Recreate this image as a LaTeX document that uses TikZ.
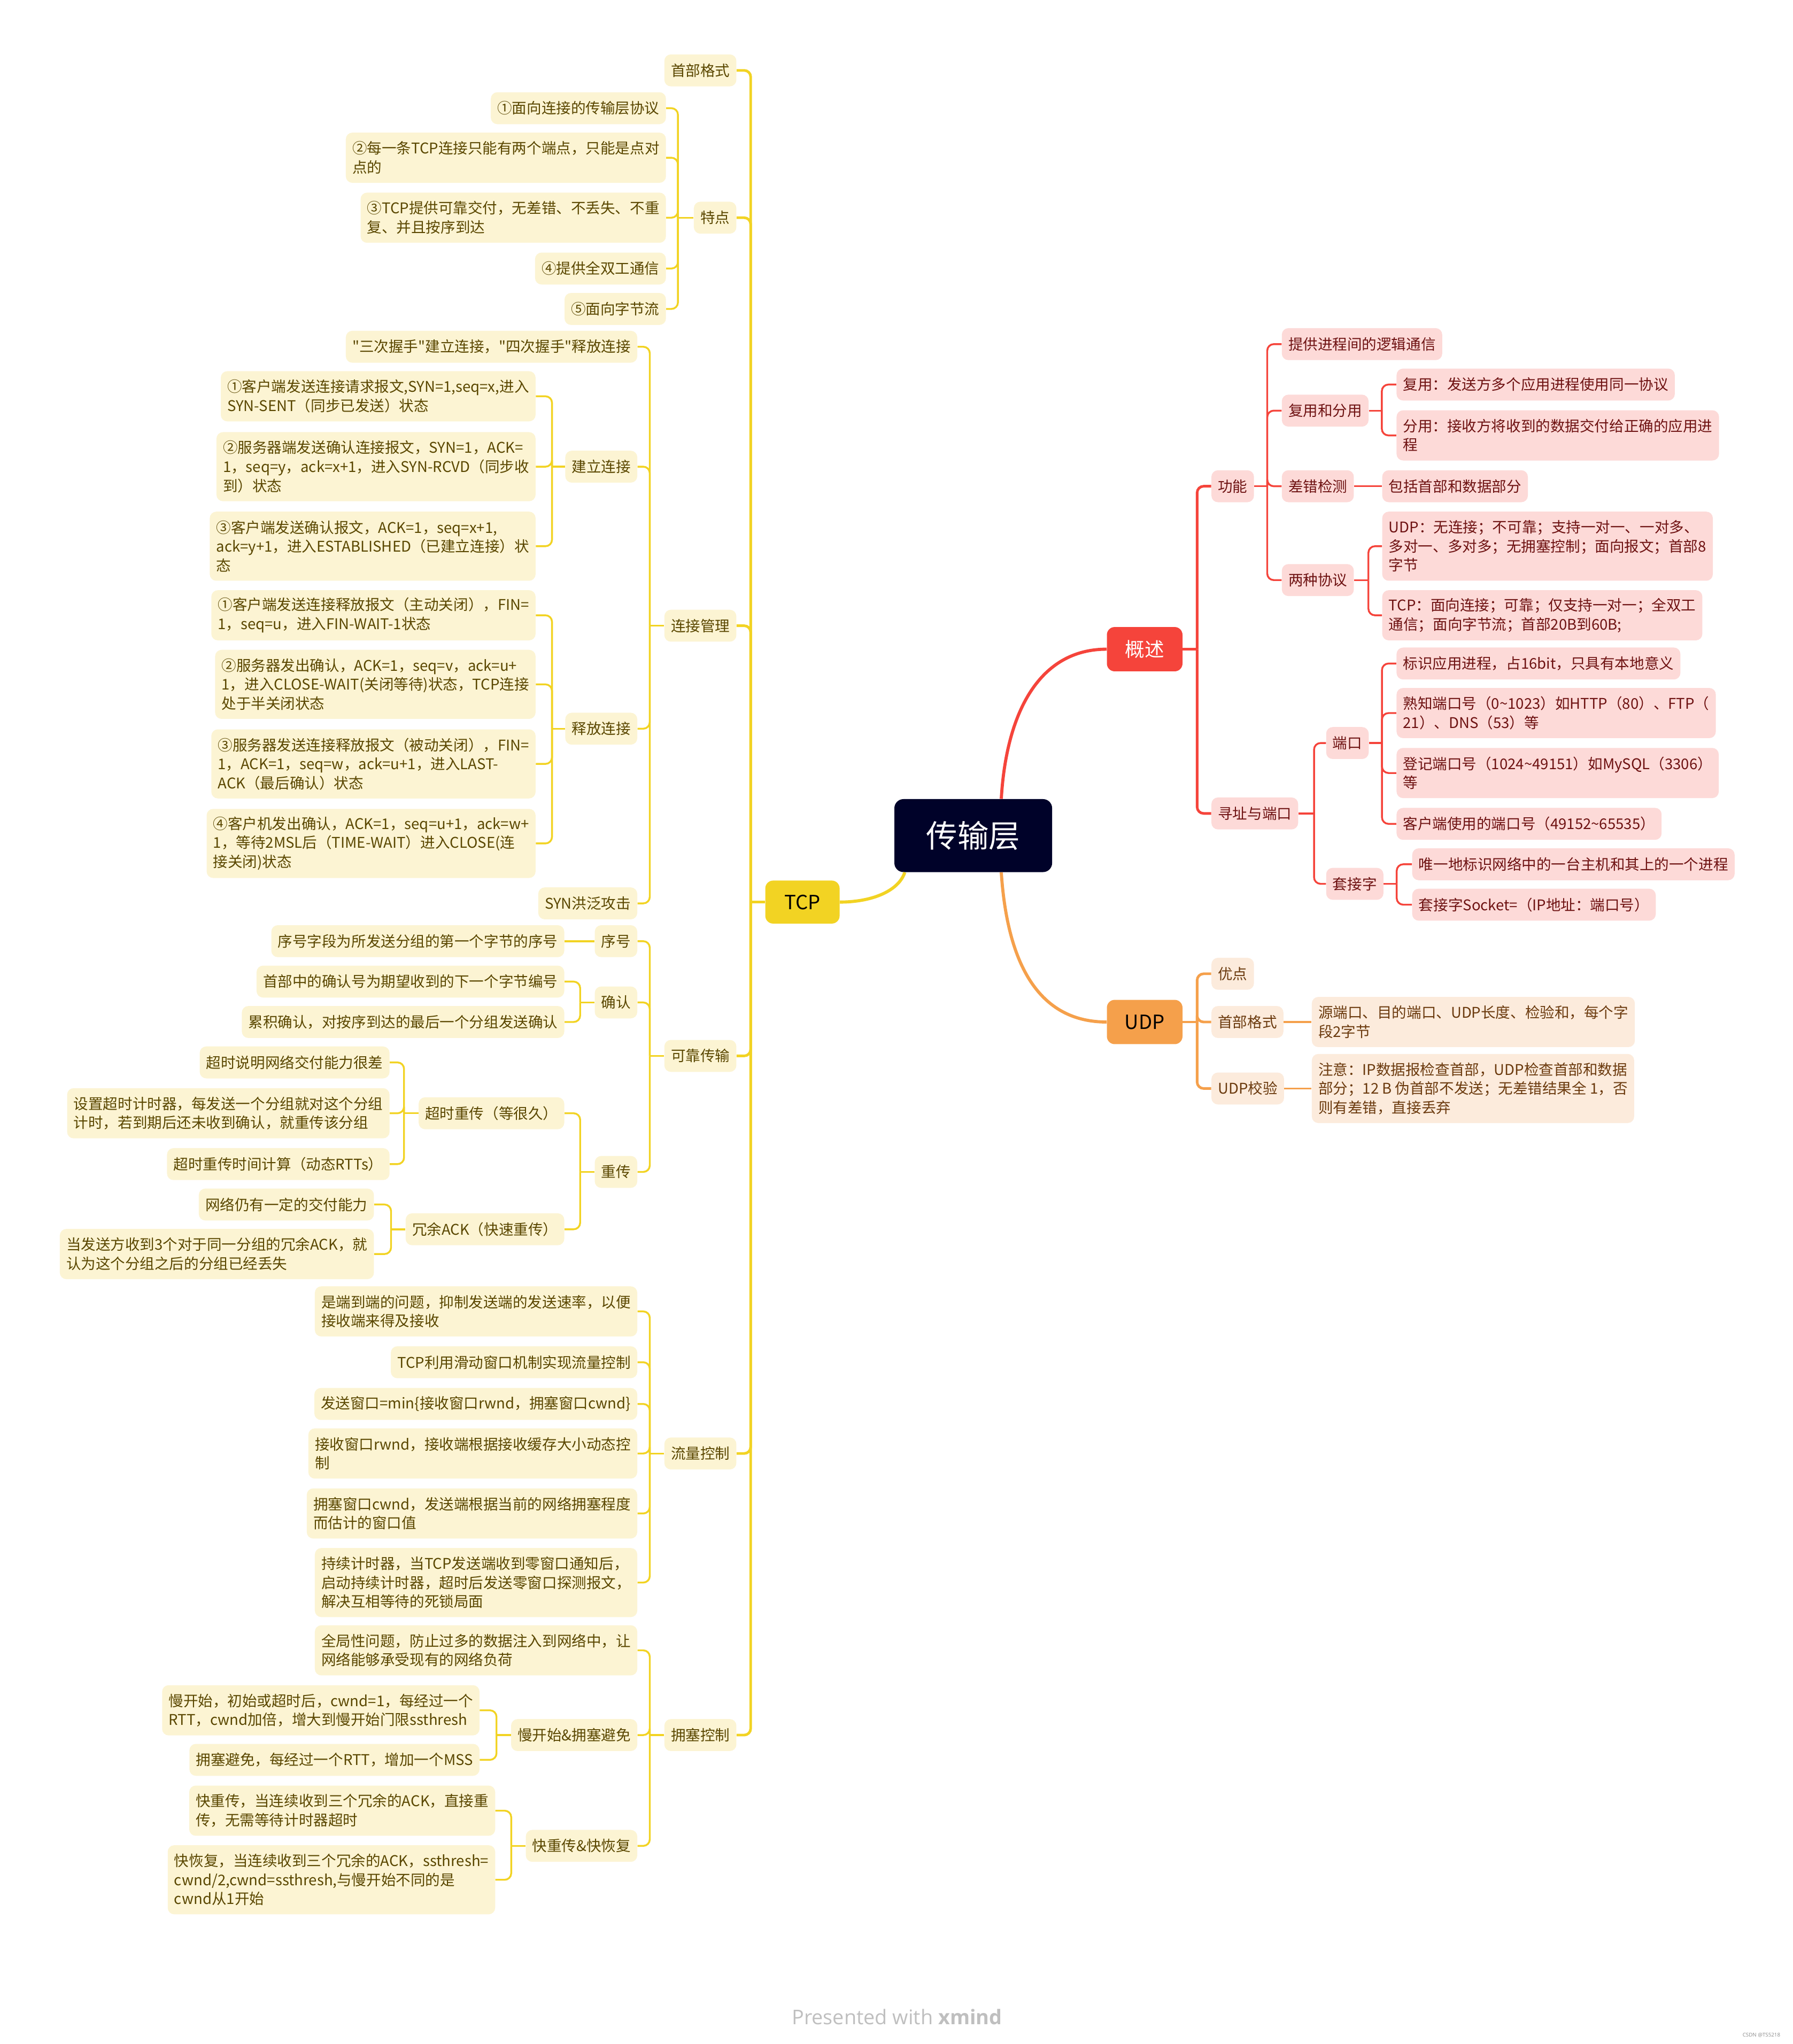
\documentclass[tikz,border=0pt]{standalone}
\usepackage{fontspec}
\setmainfont{Noto Sans CJK SC}
\newfontfamily\wmfont{Open Sans}
\newcommand\mydq{\XeTeXglyph\XeTeXcharglyph"22\relax}
\definecolor{ylLine}{HTML}{F2D323}
\definecolor{ylFill}{HTML}{FCF4D3}
\definecolor{ylText}{HTML}{5A4700}
\definecolor{rdLine}{HTML}{F5443B}
\definecolor{rdFill}{HTML}{FDDAD8}
\definecolor{rdText}{HTML}{6E1212}
\definecolor{ogLine}{HTML}{F5A04B}
\definecolor{ogFill}{HTML}{FCEBDC}
\definecolor{ogText}{HTML}{6B3A0E}
\definecolor{ctrFill}{HTML}{000229}
\begin{document}
\begin{tikzpicture}[x=1pt,y=-1pt,
  box/.style={rounded corners=5pt, inner xsep=5pt, inner ysep=2pt, align=left,
    font=\fontsize{11.3}{14.6}\selectfont, minimum height=24.5pt},
  yb/.style={box, fill=ylFill, text=ylText},
  rb/.style={box, fill=rdFill, text=rdText},
  ob/.style={box, fill=ogFill, text=ogText},
  toL/.style={anchor=east}, toR/.style={anchor=west},
  hh2/.style={minimum height=38.5pt}, hh3/.style={minimum height=53pt},
  mainbox/.style={rounded corners=6pt, minimum width=58pt, minimum height=34pt,
    font=\fontsize{15}{18}\selectfont},
  yc/.style={draw=ylLine, line width=1.4pt, rounded corners=5pt},
  ys/.style={draw=ylLine, line width=2pt, rounded corners=5pt},
  rc/.style={draw=rdLine, line width=1.4pt, rounded corners=5pt},
  rs/.style={draw=rdLine, line width=2pt, rounded corners=5pt},
  oc/.style={draw=ogLine, line width=1.4pt, rounded corners=5pt},
  os/.style={draw=ogLine, line width=2pt, rounded corners=5pt},
  curve/.style={line width=2.4pt}]
\useasboundingbox (0,0) rectangle (1375,1568);
\fill[white] (0,0) rectangle (1375,1568);

% ---------- main nodes ----------
\node[fill=ctrFill, text=white, rounded corners=7pt, minimum width=121pt, minimum height=56pt,
  font=\fontsize{24}{28}\selectfont] (ctr) at (746.5,641) {传输层};
\node[mainbox, fill=ylLine, text=black, minimum width=57pt, minimum height=33pt] (tcp) at (615.5,692) {TCP};
\node[mainbox, fill=rdLine, text=white] (gs) at (878,498) {概述};
\node[mainbox, fill=ogLine, text=black] (udp) at (878,784) {UDP};

% ---------- TCP level 2 ----------
\node[yb,toL] (tHdr) at (565,54) {首部格式};
\node[yb,toL] (tFeat) at (565,167) {特点};
\node[yb,toL] (tConn) at (565,480) {连接管理};
\node[yb,toL] (tRel) at (565,810) {可靠传输};
\node[yb,toL] (tFlow) at (565,1115) {流量控制};
\node[yb,toL] (tCong) at (565,1331) {拥塞控制};

% features
\node[yb,toL] (f1) at (511,83) {①面向连接的传输层协议};
\node[yb,toL,hh2] (f2) at (511,121) {②每一条TCP连接只能有两个端点，只能是点对\\点的};
\node[yb,toL,hh2] (f3) at (511,167) {③TCP提供可靠交付，无差错、不丢失、不重\\复、并且按序到达};
\node[yb,toL] (f4) at (511,206) {④提供全双工通信};
\node[yb,toL] (f5) at (511,237) {⑤面向字节流};

% connection management
\node[yb,toL] (c0) at (489,266) {\mydq 三次握手\mydq 建立连接，\mydq 四次握手\mydq 释放连接};
\node[yb,toL] (cEst) at (489,358) {建立连接};
\node[yb,toL] (cRls) at (489,559) {释放连接};
\node[yb,toL] (cSyn) at (489,693) {SYN洪泛攻击};
\node[yb,toL,hh2] (e1) at (411,304) {①客户端发送连接请求报文,SYN=1,seq=x,进入\\SYN-SENT（同步已发送）状态};
\node[yb,toL,hh3] (e2) at (411,358) {②服务器端发送确认连接报文，SYN=1，ACK=\\1，seq=y，ack=x+1，进入SYN-RCVD（同步收\\到）状态};
\node[yb,toL,hh3] (e3) at (411,419) {③客户端发送确认报文，ACK=1，seq=x+1,\\ack=y+1，进入ESTABLISHED（已建立连接）状\\态};
\node[yb,toL,hh2] (r1) at (411,472) {①客户端发送连接释放报文（主动关闭），FIN=\\1，seq=u，进入FIN-WAIT-1状态};
\node[yb,toL,hh3] (r2) at (411,525) {②服务器发出确认，ACK=1，seq=v，ack=u+\\1，进入CLOSE-WAIT(关闭等待)状态，TCP连接\\处于半关闭状态};
\node[yb,toL,hh3] (r3) at (411,586) {③服务器发送连接释放报文（被动关闭），FIN=\\1，ACK=1，seq=w，ack=u+1，进入LAST-\\ACK（最后确认）状态};
\node[yb,toL,hh3] (r4) at (411,647) {④客户机发出确认，ACK=1，seq=u+1，ack=w+\\1，等待2MSL后（TIME-WAIT）进入CLOSE(连\\接关闭)状态};

% reliable transfer
\node[yb,toL] (sSeq) at (489,722) {序号};
\node[yb,toL] (sAck) at (489,769) {确认};
\node[yb,toL] (sRe) at (489,899) {重传};
\node[yb,toL] (q1) at (433,722) {序号字段为所发送分组的第一个字节的序号};
\node[yb,toL] (a1) at (433,753) {首部中的确认号为期望收到的下一个字节编号};
\node[yb,toL] (a2) at (433,784) {累积确认，对按序到达的最后一个分组发送确认};
\node[yb,toL] (sTo) at (433,854) {超时重传（等很久）};
\node[yb,toL] (sDup) at (433,943) {冗余ACK（快速重传）};
\node[yb,toL] (o1) at (299,815) {超时说明网络交付能力很差};
\node[yb,toL,hh2] (o2) at (299,854) {设置超时计时器，每发送一个分组就对这个分组\\计时，若到期后还未收到确认，就重传该分组};
\node[yb,toL] (o3) at (299,893) {超时重传时间计算（动态RTTs）};
\node[yb,toL] (d1) at (287,924) {网络仍有一定的交付能力};
\node[yb,toL,hh2] (d2) at (287,962) {当发送方收到3个对于同一分组的冗余ACK，就\\认为这个分组之后的分组已经丢失};

% flow control
\node[yb,toL,hh2] (w1) at (489,1006) {是端到端的问题，抑制发送端的发送速率，以便\\接收端来得及接收};
\node[yb,toL] (w2) at (489,1045) {TCP利用滑动窗口机制实现流量控制};
\node[yb,toL] (w3) at (489,1077) {发送窗口=min\{接收窗口rwnd，拥塞窗口cwnd\}};
\node[yb,toL,hh2] (w4) at (489,1115) {接收窗口rwnd，接收端根据接收缓存大小动态控\\制};
\node[yb,toL,hh2] (w5) at (489,1161) {拥塞窗口cwnd，发送端根据当前的网络拥塞程度\\而估计的窗口值};
\node[yb,toL,hh3] (w6) at (489,1214) {持续计时器，当TCP发送端收到零窗口通知后，\\启动持续计时器，超时后发送零窗口探测报文，\\解决互相等待的死锁局面};

% congestion control
\node[yb,toL,hh2] (g0) at (489,1266) {全局性问题，防止过多的数据注入到网络中，让\\网络能够承受现有的网络负荷};
\node[yb,toL] (gSlow) at (489,1331) {慢开始\&拥塞避免};
\node[yb,toL] (gFast) at (489,1416) {快重传\&快恢复};
\node[yb,toL,hh2] (s1) at (368,1312) {慢开始，初始或超时后，cwnd=1，每经过一个\\RTT，cwnd加倍，增大到慢开始门限ssthresh};
\node[yb,toL] (s2) at (368,1350) {拥塞避免，每经过一个RTT，增加一个MSS};
\node[yb,toL,hh2] (k1) at (380,1389) {快重传，当连续收到三个冗余的ACK，直接重\\传，无需等待计时器超时};
\node[yb,toL,hh3] (k2) at (380,1442) {快恢复，当连续收到三个冗余的ACK，ssthresh=\\cwnd/2,cwnd=ssthresh,与慢开始不同的是\\cwnd从1开始};

% ---------- overview ----------
\node[rb,toR] (gFun) at (929,373) {功能};
\node[rb,toR] (gAddr) at (929,624) {寻址与端口};
\node[rb,toR] (n1) at (983,264) {提供进程间的逻辑通信};
\node[rb,toR] (nMux) at (983,315) {复用和分用};
\node[rb,toR] (nErr) at (983,373) {差错检测};
\node[rb,toR] (nTwo) at (983,445) {两种协议};
\node[rb,toR] (m1) at (1071,295) {复用：发送方多个应用进程使用同一协议};
\node[rb,toR,hh2] (m2) at (1071,334) {分用：接收方将收到的数据交付给正确的应用进\\程};
\node[rb,toR] (x1) at (1060,373) {包括首部和数据部分};
\node[rb,toR,hh3] (p1) at (1060,419) {UDP：无连接；不可靠；支持一对一、一对多、\\多对一、多对多；无拥塞控制；面向报文；首部8\\字节};
\node[rb,toR,hh2] (p2) at (1060,472) {TCP：面向连接；可靠；仅支持一对一；全双工\\通信；面向字节流；首部20B到60B;};
\node[rb,toR] (nPort) at (1017,570) {端口};
\node[rb,toR] (nSock) at (1017,678) {套接字};
\node[rb,toR] (t1) at (1071,509) {标识应用进程，占16bit，只具有本地意义};
\node[rb,toR,hh2] (t2) at (1071,547) {熟知端口号（0\textasciitilde1023）如HTTP（80）、FTP（\\21）、DNS（53）等};
\node[rb,toR,hh2] (t3) at (1071,593) {登记端口号（1024\textasciitilde49151）如MySQL（3306）\\等};
\node[rb,toR] (t4) at (1071,632) {客户端使用的端口号（49152\textasciitilde65535）};
\node[rb,toR] (sk1) at (1083,663) {唯一地标识网络中的一台主机和其上的一个进程};
\node[rb,toR] (sk2) at (1083,694) {套接字Socket=（IP地址：端口号）};

% ---------- UDP ----------
\node[ob,toR] (uAdv) at (929,747) {优点};
\node[ob,toR] (uHdr) at (929,784) {首部格式};
\node[ob,toR] (uChk) at (929,835) {UDP校验};
\node[ob,toR,hh2] (uh1) at (1006,784) {源端口、目的端口、UDP长度、检验和，每个字\\段2字节};
\node[ob,toR,hh3] (uc1) at (1006,835) {注意：IP数据报检查首部，UDP检查首部和数据\\部分；12 B 伪首部不发送；无差错结果全 1，否\\则有差错，直接丢弃};

% ---------- connectors: centre ----------
\draw[curve, rdLine] ([xshift=21.5pt]ctr.north) .. controls (772,545) and (798,498) .. (gs.west);
\draw[curve, ogLine] ([xshift=21.5pt]ctr.south) .. controls (773,745) and (800,784) .. (udp.west);
\draw[curve, ylLine] ([xshift=-52.5pt]ctr.south) .. controls (689,684) and (668,692) .. (tcp.east);

% ---------- connectors: TCP ----------
\draw[ys] (tcp.west) -- ([xshift=-11pt]tcp.west);
\foreach \c in {tHdr,tFeat,tConn,tRel,tFlow,tCong}
  \draw[ys] (\c.east) -| ([xshift=-11pt]tcp.west);
\draw[yc] (tFeat.west) -- ([xshift=-12pt]tFeat.west);
\foreach \c in {f1,f2,f3,f4,f5}
  \draw[yc] (\c.east) -| ([xshift=-12pt]tFeat.west);
\draw[yc] (tConn.west) -- ([xshift=-11pt]tConn.west);
\foreach \c in {c0,cEst,cRls,cSyn}
  \draw[yc] (\c.east) -| ([xshift=-11pt]tConn.west);
\draw[yc] (cEst.west) -- ([xshift=-10pt]cEst.west);
\foreach \c in {e1,e2,e3}
  \draw[yc] (\c.east) -| ([xshift=-10pt]cEst.west);
\draw[yc] (cRls.west) -- ([xshift=-10pt]cRls.west);
\foreach \c in {r1,r2,r3,r4}
  \draw[yc] (\c.east) -| ([xshift=-10pt]cRls.west);
\draw[yc] (tRel.west) -- ([xshift=-11pt]tRel.west);
\foreach \c in {sSeq,sAck,sRe}
  \draw[yc] (\c.east) -| ([xshift=-11pt]tRel.west);
\draw[yc] (q1.east) -- (sSeq.west);
\draw[yc] (sAck.west) -- ([xshift=-11pt]sAck.west);
\foreach \c in {a1,a2}
  \draw[yc] (\c.east) -| ([xshift=-11pt]sAck.west);
\draw[yc] (sRe.west) -- ([xshift=-11pt]sRe.west);
\foreach \c in {sTo,sDup}
  \draw[yc] (\c.east) -| ([xshift=-11pt]sRe.west);
\draw[yc] (sTo.west) -- ([xshift=-11pt]sTo.west);
\foreach \c in {o1,o2,o3}
  \draw[yc] (\c.east) -| ([xshift=-11pt]sTo.west);
\draw[yc] (sDup.west) -- ([xshift=-11pt]sDup.west);
\foreach \c in {d1,d2}
  \draw[yc] (\c.east) -| ([xshift=-11pt]sDup.west);
\draw[yc] (tFlow.west) -- ([xshift=-11pt]tFlow.west);
\foreach \c in {w1,w2,w3,w4,w5,w6}
  \draw[yc] (\c.east) -| ([xshift=-11pt]tFlow.west);
\draw[yc] (tCong.west) -- ([xshift=-11pt]tCong.west);
\foreach \c in {g0,gSlow,gFast}
  \draw[yc] (\c.east) -| ([xshift=-11pt]tCong.west);
\draw[yc] (gSlow.west) -- ([xshift=-11pt]gSlow.west);
\foreach \c in {s1,s2}
  \draw[yc] (\c.east) -| ([xshift=-11pt]gSlow.west);
\draw[yc] (gFast.west) -- ([xshift=-11pt]gFast.west);
\foreach \c in {k1,k2}
  \draw[yc] (\c.east) -| ([xshift=-11pt]gFast.west);

% ---------- connectors: overview ----------
\draw[rs] (gs.east) -- ([xshift=11pt]gs.east);
\foreach \c in {gFun,gAddr}
  \draw[rs] (\c.west) -| ([xshift=11pt]gs.east);
\draw[rc] (gFun.east) -- ([xshift=10pt]gFun.east);
\foreach \c in {n1,nMux,nErr,nTwo}
  \draw[rc] (\c.west) -| ([xshift=10pt]gFun.east);
\draw[rc] (nMux.east) -- ([xshift=10pt]nMux.east);
\foreach \c in {m1,m2}
  \draw[rc] (\c.west) -| ([xshift=10pt]nMux.east);
\draw[rc] (nErr.east) -- (x1.west);
\draw[rc] (nTwo.east) -- ([xshift=11pt]nTwo.east);
\foreach \c in {p1,p2}
  \draw[rc] (\c.west) -| ([xshift=11pt]nTwo.east);
\draw[rc] (gAddr.east) -- ([xshift=12pt]gAddr.east);
\foreach \c in {nPort,nSock}
  \draw[rc] (\c.west) -| ([xshift=12pt]gAddr.east);
\draw[rc] (nPort.east) -- ([xshift=10pt]nPort.east);
\foreach \c in {t1,t2,t3,t4}
  \draw[rc] (\c.west) -| ([xshift=10pt]nPort.east);
\draw[rc] (nSock.east) -- ([xshift=10pt]nSock.east);
\foreach \c in {sk1,sk2}
  \draw[rc] (\c.west) -| ([xshift=10pt]nSock.east);

% ---------- connectors: UDP ----------
\draw[os] (udp.east) -- ([xshift=11pt]udp.east);
\foreach \c in {uAdv,uHdr,uChk}
  \draw[os] (\c.west) -| ([xshift=11pt]udp.east);
\draw[oc] (uHdr.east) -- (uh1.west);
\draw[oc] (uChk.east) -- (uc1.west);

% ---------- watermark ----------
\node[text=black!25, font=\wmfont\fontsize{15.5}{18}\selectfont] (wm) at (688,1547) {Presented with \textbf{xmind}};
\node[text=black!45, font=\wmfont\fontsize{4}{5}\selectfont, anchor=east] (csdn) at (1369,1561) {CSDN @TS5218};
\end{tikzpicture}
\end{document}
